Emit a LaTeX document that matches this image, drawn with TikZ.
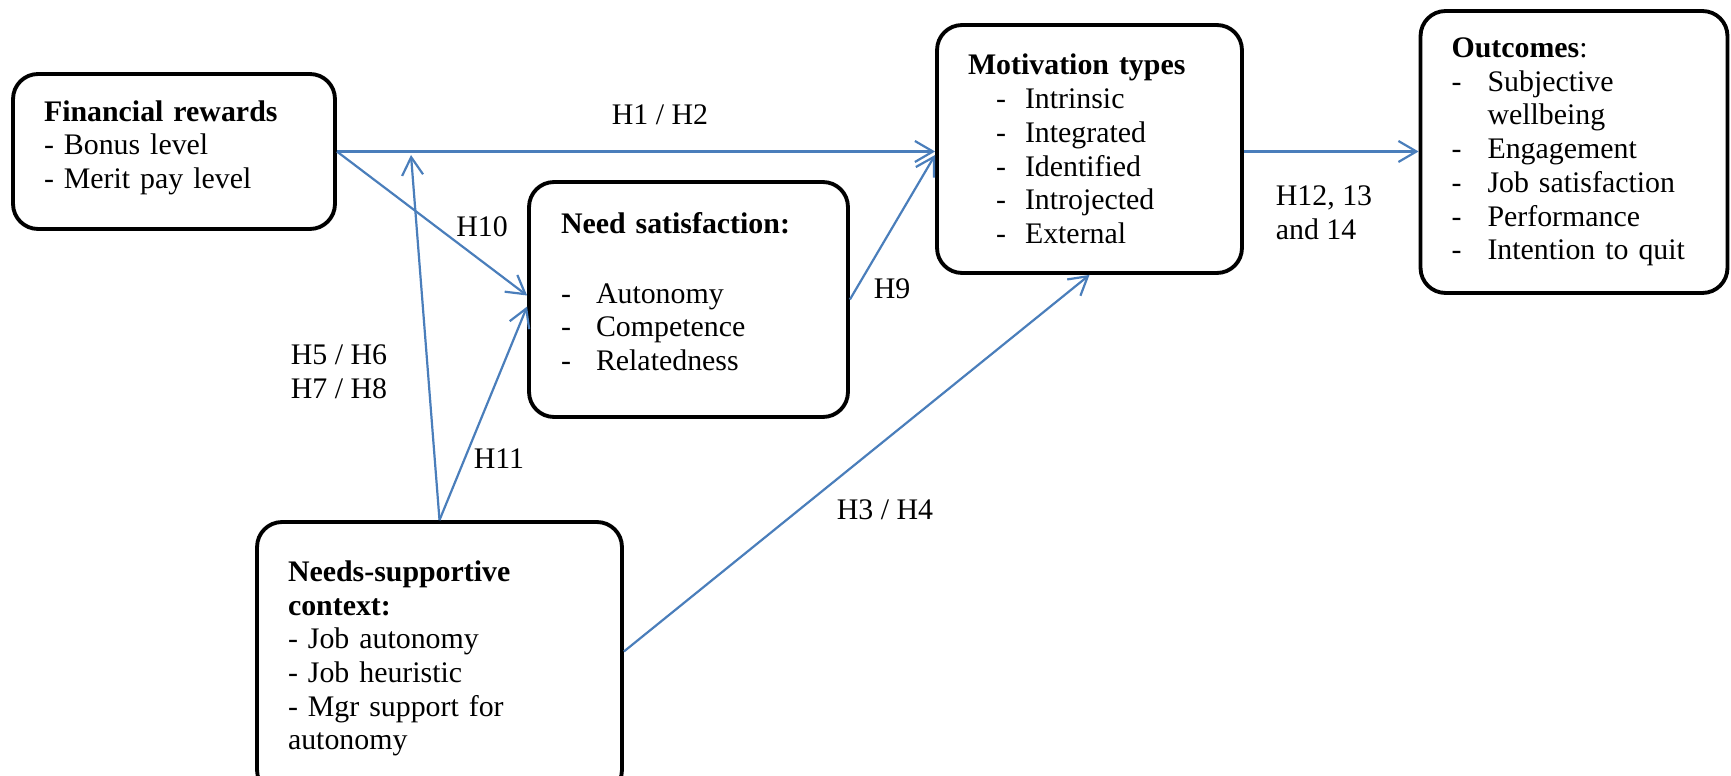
\documentclass[tikz,border=0pt]{standalone}
\usepackage{fontspec}
\setmainfont{Liberation Serif}
\usetikzlibrary{arrows.meta,calc}
\definecolor{linkblue}{RGB}{74,126,187}
\newcommand{\dashitem}[1][0.7cm]{\makebox[#1][l]{-}}

\begin{document}
\begin{tikzpicture}[
  x=0.02cm,
  y=-0.02cm,
  >={Straight Barb[length=3.6mm,width=4.2mm]},
  every node/.style={font=\fontsize{17pt}{19.2pt}\selectfont},
  factor box/.style={rectangle,rounded corners=0.5cm,draw,line width=2.2pt,align=left,inner xsep=0.62cm},
  link/.style={->,draw=linkblue,line width=1.25pt},
  hyp label/.style={align=left,inner sep=1pt},
]
\useasboundingbox (0,0) rectangle (1731,776);
\clip (0,0) rectangle (1731,776);
% factor boxes
\node[factor box,minimum width=6.44cm,minimum height=3.1cm,text width=5.2cm] (fin) at (174,151.5)
  {\textbf{Financial rewards}\\- Bonus level\\- Merit pay level\rule[-8pt]{0pt}{0pt}};
\node[factor box,minimum width=6.38cm,minimum height=4.7cm,text width=5.1cm] (ns) at (688.5,299.5)
  {\textbf{Need satisfaction:}\\[20.4pt]\dashitem Autonomy\\\dashitem Competence\\\dashitem Relatedness\rule[-9pt]{0pt}{0pt}};
\node[factor box,minimum width=6.1cm,minimum height=4.96cm,text width=4.86cm] (mot) at (1089.5,149)
  {\textbf{Motivation types}\\
   \hspace*{0.56cm}\dashitem[0.58cm]Intrinsic\\
   \hspace*{0.56cm}\dashitem[0.58cm]Integrated\\
   \hspace*{0.56cm}\dashitem[0.58cm]Identified\\
   \hspace*{0.56cm}\dashitem[0.58cm]Introjected\\
   \hspace*{0.56cm}\dashitem[0.58cm]External};
\node[factor box,minimum width=6.12cm,minimum height=5.64cm,text width=4.9cm] (out) at (1574,152)
  {\textbf{Outcomes}:\\
   \dashitem[0.72cm]Subjective\\
   \hspace*{0.72cm}wellbeing\\
   \dashitem[0.72cm]Engagement\\
   \dashitem[0.72cm]Job satisfaction\\
   \dashitem[0.72cm]Performance\\
   \dashitem[0.72cm]Intention to quit};
\node[factor box,minimum width=7.3cm,minimum height=5.46cm,text width=6.06cm] (nsc) at (439.5,658.5)
  {\textbf{Needs-supportive}\\\textbf{context:}\\- Job autonomy\\- Job heuristic\\- Mgr support for\\autonomy};
% hypothesis labels
\node[hyp label] (lh12) at (660,115) {H1 / H2};
\node[hyp label] (lh10) at (482,227) {H10};
\node[hyp label] (lh58) at (339,372) {H5 / H6\\H7 / H8};
\node[hyp label] (lh11) at (499,459) {H11};
\node[hyp label] (lh9) at (892,289) {H9};
\node[hyp label] (lh34) at (885,510) {H3 / H4};
\node[hyp label] (lh1214) at (1324,213) {H12, 13\\and 14};
% paths
\coordinate (modtip) at (411,155);
\draw[link] (fin.east) -- (fin.east -| mot.west);
\draw[link] (fin.east) -- ($(ns.west)+(0,-4)$);
\draw[link] (nsc.north) -- (modtip);
\draw[link] (nsc.north) -- ($(ns.west)+(0,7)$);
\draw[link] (ns.east) -- ($(mot.west)+(0,6)$);
\draw[link] ($(nsc.east)+(0,-7)$) -- (mot.south);
\draw[link] (mot.east |- fin.east) -- (out.west |- fin.east);
\end{tikzpicture}
\end{document}
